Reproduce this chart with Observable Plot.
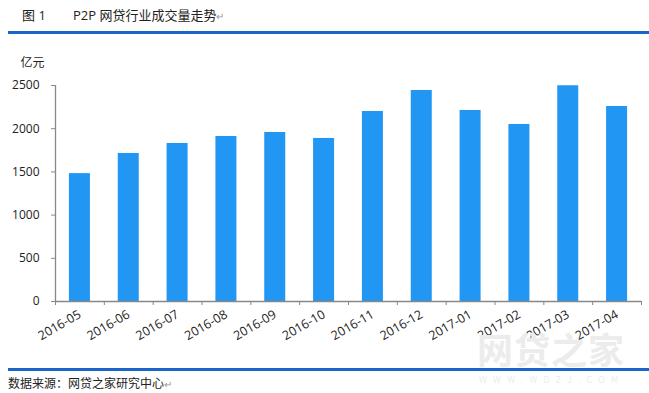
<!DOCTYPE html>
<html><head><meta charset="utf-8">
<script src="https://cdn.jsdelivr.net/npm/d3@7"></script>
<script src="https://cdn.jsdelivr.net/npm/@observablehq/plot@0.6"></script>
<style>
html,body{margin:0;padding:0;background:#fff;}
#wrap{position:relative;width:649px;height:393px;overflow:hidden;font-family:"Segoe UI","Open Sans","Noto Sans","Noto Sans CJK SC",sans-serif;color:#222;}
.title{position:absolute;top:5px;left:22px;font-size:13px;white-space:nowrap;}
.title .fig{display:inline-block;width:51px;}
.rule{position:absolute;left:8px;right:0;height:3px;background:#1a66c8;}
.src{position:absolute;top:374px;left:8px;font-size:12px;white-space:nowrap;}
.ret{color:#999;font-size:10px;}
.wm{position:absolute;color:#ececec;white-space:nowrap;font-family:"Noto Sans CJK SC",sans-serif;line-height:1;}
#chart{position:absolute;top:40px;left:0;}
</style></head>
<body><div id="wrap">
<div class="title"><span class="fig">图 1</span>P2P 网贷行业成交量走势<span class="ret">↵</span></div>
<div class="rule" style="top:31px"></div>
<div id="chart"></div>
<div class="wm" style="left:477px;top:330px;font-size:36px;font-weight:bold;letter-spacing:1px;">网贷之家</div>
<div class="rule" style="top:368px"></div>
<div class="wm" style="left:479px;top:375px;font-size:9px;letter-spacing:6.2px;">WWW.WDZJ.COM</div>
<div class="src">数据来源：网贷之家研究中心<span class="ret">↵</span></div>
</div>
<script>
const months = ["2016-05","2016-06","2016-07","2016-08","2016-09","2016-10","2016-11","2016-12","2017-01","2017-02","2017-03","2017-04"];
const volumes = [1480, 1713, 1829, 1910, 1956, 1887, 2199, 2442, 2211, 2049, 2497, 2257];
const yTicks = [0, 500, 1000, 1500, 2000, 2500];
const unitLabel = "亿元";

const data = months.map((m, i) => ({month: m, value: volumes[i]}));
const W = 649, ML = 55, MR = 8;
const half = (W - ML - MR) / months.length / 2;
const font = '"Segoe UI","Open Sans","Noto Sans","Noto Sans CJK SC",sans-serif';

const chart = Plot.plot({
  width: W,
  height: 320,
  marginLeft: ML,
  marginRight: MR,
  marginTop: 45,
  marginBottom: 59,
  style: {fontSize: "12px", fontFamily: font, color: "#222", background: "transparent"},
  x: {type: "band", domain: months, paddingInner: 0.57, paddingOuter: 0.285, round: false, label: null},
  y: {domain: [0, 2500], label: null},
  marks: [
    Plot.barY(data, {x: "month", y: "value", fill: "#2196f3"}),
    Plot.axisY(yTicks, {tickSize: 4, tickPadding: 12, tickFormat: d => String(d), stroke: "#888", fill: "#222", fontSize: 12}),
    Plot.ruleX([months[0]], {x: d => d, dx: -half, y1: 0, y2: 2500, stroke: "#888", strokeWidth: 1.3}),
    Plot.ruleY([0], {stroke: "#888", strokeWidth: 1.3}),
    Plot.axisX(months, {tickSize: 4, dx: -half, text: null, stroke: "#888"}),
    Plot.axisX([months[months.length - 1]], {tickSize: 4, dx: half, text: null, stroke: "#888"}),
    Plot.axisX(months, {tickSize: 0, tickPadding: 12, tickRotate: -30, fill: "#222", fontSize: 12.5, dx: 0}),
    Plot.text([unitLabel], {frameAnchor: "top-left", dx: -35, dy: -27, text: d => d, fill: "#222", fontSize: 12, textAnchor: "start"})
  ]
});
document.getElementById("chart").appendChild(chart);
</script>
</body></html>
